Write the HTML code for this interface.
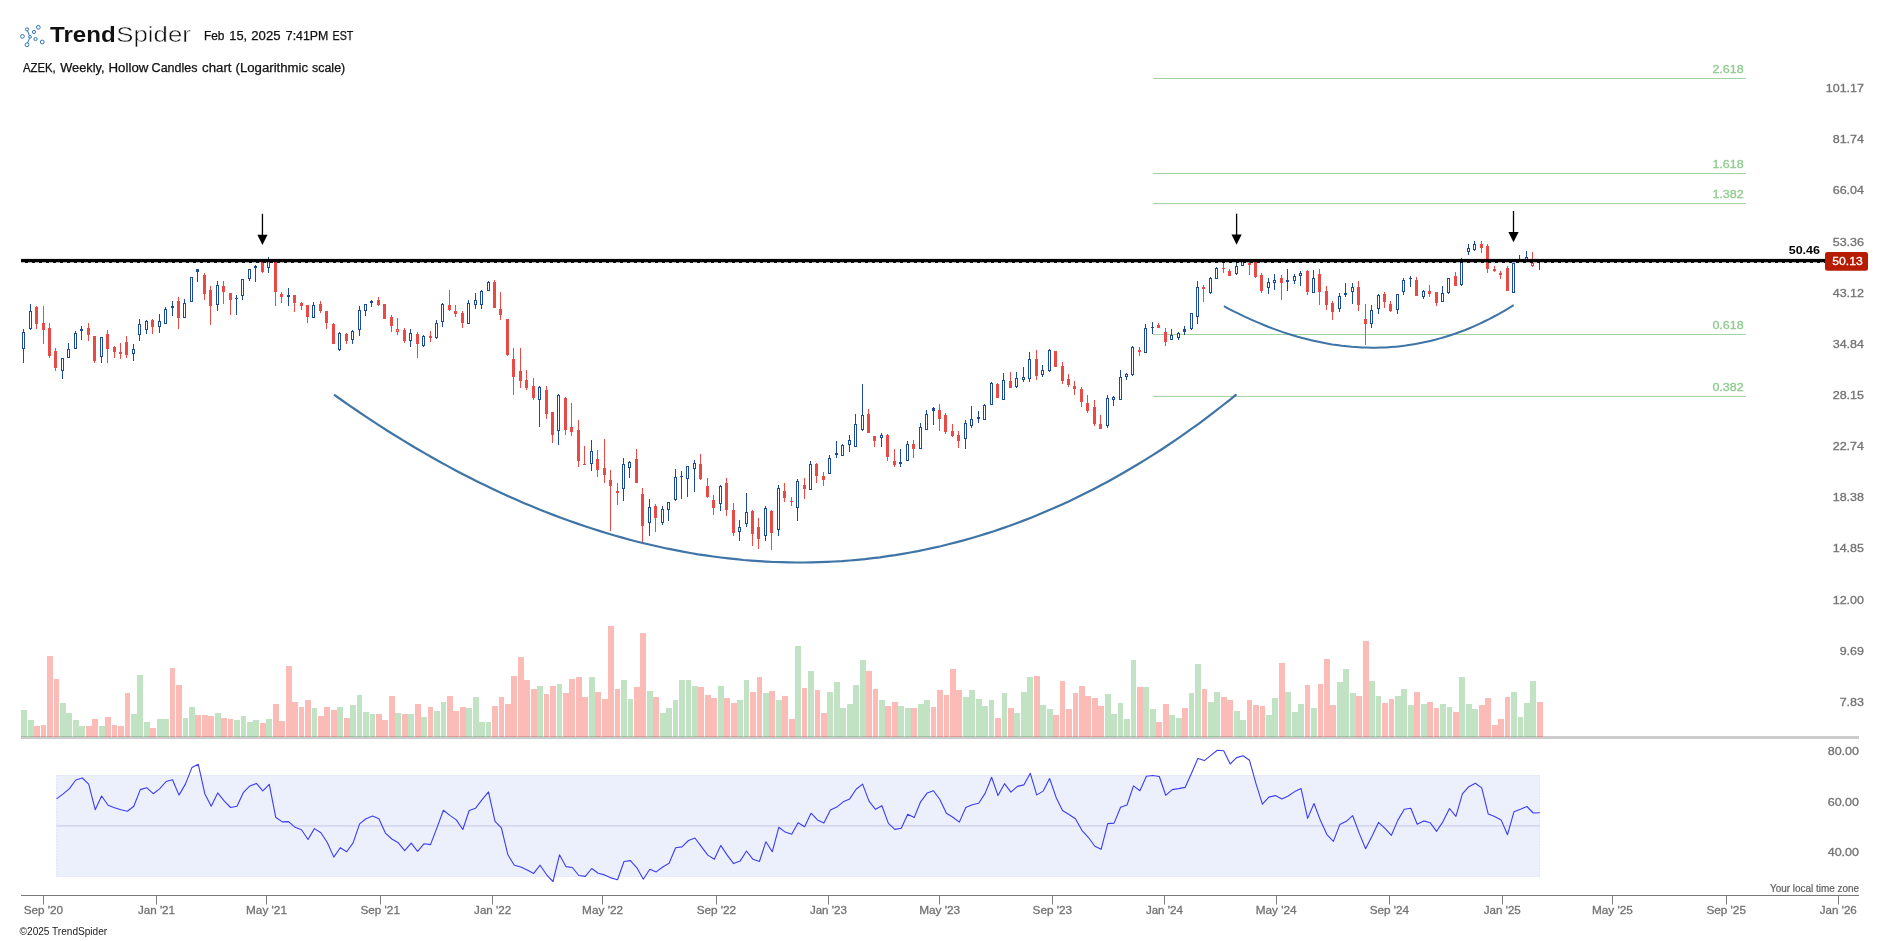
<!DOCTYPE html>
<html><head><meta charset="utf-8"><title>AZEK Weekly - TrendSpider</title>
<style>html,body{margin:0;padding:0;background:#fff;}body{width:1889px;height:941px;overflow:hidden;font-family:"Liberation Sans",sans-serif;}svg{display:block;will-change:transform;}text{font-family:"Liberation Sans",sans-serif;}</style>
</head><body>
<svg width="1889" height="941" viewBox="0 0 1889 941">
<rect x="0" y="0" width="1889" height="941" fill="#ffffff"/>
<g id="logo" fill="none" stroke="#2F77B6" stroke-width="1.0">
<circle cx="38.3" cy="27.3" r="1.9"/>
<circle cx="27.0" cy="29.4" r="1.6"/>
<circle cx="34.0" cy="32.0" r="1.6"/>
<circle cx="22.4" cy="36.4" r="1.9"/>
<circle cx="30.0" cy="36.9" r="1.4"/>
<circle cx="35.5" cy="39.0" r="1.6"/>
<circle cx="42.2" cy="42.0" r="1.9"/>
<circle cx="27.0" cy="44.7" r="1.9"/>
<path d="M27.6 30.9 L29.3 35.6 M29.5 38.3 L27.6 42.9"/>
</g>
<text x="50.00" y="42.40" font-size="22" fill="#111" textLength="65.60" lengthAdjust="spacingAndGlyphs" font-weight="bold">Trend</text>
<text x="116.3" y="42.4" font-size="22" fill="#111" textLength="74.6" lengthAdjust="spacingAndGlyphs" stroke="#fff" stroke-width="0.45" paint-order="fill stroke">Spider</text>
<text x="203.90" y="39.60" font-size="12" fill="#111" textLength="20.50" lengthAdjust="spacingAndGlyphs" stroke="#111" stroke-width="0.25">Feb</text>
<text x="229.30" y="39.60" font-size="12" fill="#111" textLength="17.90" lengthAdjust="spacingAndGlyphs" stroke="#111" stroke-width="0.25">15,</text>
<text x="251.30" y="39.60" font-size="12" fill="#111" textLength="29.20" lengthAdjust="spacingAndGlyphs" stroke="#111" stroke-width="0.25">2025</text>
<text x="285.80" y="39.60" font-size="12" fill="#111" textLength="42.60" lengthAdjust="spacingAndGlyphs" stroke="#111" stroke-width="0.25">7:41PM</text>
<text x="332.60" y="39.60" font-size="12" fill="#111" textLength="20.80" lengthAdjust="spacingAndGlyphs" stroke="#111" stroke-width="0.25">EST</text>
<text x="23.00" y="72.00" font-size="12" fill="#111" textLength="32.70" lengthAdjust="spacingAndGlyphs" stroke="#111" stroke-width="0.25">AZEK,</text>
<text x="60.20" y="72.00" font-size="12" fill="#111" textLength="44.30" lengthAdjust="spacingAndGlyphs" stroke="#111" stroke-width="0.25">Weekly,</text>
<text x="108.50" y="72.00" font-size="12" fill="#111" textLength="39.90" lengthAdjust="spacingAndGlyphs" stroke="#111" stroke-width="0.25">Hollow</text>
<text x="151.60" y="72.00" font-size="12" fill="#111" textLength="45.90" lengthAdjust="spacingAndGlyphs" stroke="#111" stroke-width="0.25">Candles</text>
<text x="202.00" y="72.00" font-size="12" fill="#111" textLength="29.50" lengthAdjust="spacingAndGlyphs" stroke="#111" stroke-width="0.25">chart</text>
<text x="235.50" y="72.00" font-size="12" fill="#111" textLength="72.60" lengthAdjust="spacingAndGlyphs" stroke="#111" stroke-width="0.25">(Logarithmic</text>
<text x="312.00" y="72.00" font-size="12" fill="#111" textLength="33.20" lengthAdjust="spacingAndGlyphs" stroke="#111" stroke-width="0.25">scale)</text>
<rect x="1153" y="78" width="593" height="1" fill="#A3D3A3"/>
<text x="1743.60" y="72.90" font-size="11" fill="#8FCB8F" text-anchor="end" textLength="31.20" lengthAdjust="spacingAndGlyphs" stroke="#8FCB8F" stroke-width="0.3">2.618</text>
<rect x="1153" y="173" width="593" height="1" fill="#A3D3A3"/>
<text x="1743.60" y="167.90" font-size="11" fill="#8FCB8F" text-anchor="end" textLength="31.20" lengthAdjust="spacingAndGlyphs" stroke="#8FCB8F" stroke-width="0.3">1.618</text>
<rect x="1153" y="203" width="593" height="1" fill="#A3D3A3"/>
<text x="1743.60" y="197.90" font-size="11" fill="#8FCB8F" text-anchor="end" textLength="31.20" lengthAdjust="spacingAndGlyphs" stroke="#8FCB8F" stroke-width="0.3">1.382</text>
<rect x="1153" y="334" width="593" height="1" fill="#A3D3A3"/>
<text x="1743.60" y="328.90" font-size="11" fill="#8FCB8F" text-anchor="end" textLength="31.20" lengthAdjust="spacingAndGlyphs" stroke="#8FCB8F" stroke-width="0.3">0.618</text>
<rect x="1153" y="396" width="593" height="1" fill="#A3D3A3"/>
<text x="1743.60" y="390.90" font-size="11" fill="#8FCB8F" text-anchor="end" textLength="31.20" lengthAdjust="spacingAndGlyphs" stroke="#8FCB8F" stroke-width="0.3">0.382</text>
<rect x="21" y="736" width="1838" height="3" fill="#cccccc"/>
<g shape-rendering="crispEdges">
<rect x="21" y="710" width="6" height="27" fill="rgba(76,175,80,0.345)"/>
<rect x="28" y="720" width="6" height="17" fill="rgba(76,175,80,0.345)"/>
<rect x="34" y="726" width="6" height="11" fill="rgba(244,67,54,0.355)"/>
<rect x="41" y="725" width="5" height="12" fill="rgba(244,67,54,0.355)"/>
<rect x="47" y="656" width="6" height="81" fill="rgba(244,67,54,0.355)"/>
<rect x="54" y="679" width="5" height="58" fill="rgba(244,67,54,0.355)"/>
<rect x="60" y="703" width="6" height="34" fill="rgba(76,175,80,0.345)"/>
<rect x="66" y="713" width="6" height="24" fill="rgba(76,175,80,0.345)"/>
<rect x="73" y="720" width="6" height="17" fill="rgba(76,175,80,0.345)"/>
<rect x="79" y="726" width="6" height="11" fill="rgba(76,175,80,0.345)"/>
<rect x="86" y="726" width="6" height="11" fill="rgba(244,67,54,0.355)"/>
<rect x="92" y="719" width="6" height="18" fill="rgba(244,67,54,0.355)"/>
<rect x="99" y="726" width="6" height="11" fill="rgba(76,175,80,0.345)"/>
<rect x="105" y="717" width="6" height="20" fill="rgba(244,67,54,0.355)"/>
<rect x="112" y="725" width="5" height="12" fill="rgba(244,67,54,0.355)"/>
<rect x="118" y="726" width="6" height="11" fill="rgba(244,67,54,0.355)"/>
<rect x="125" y="693" width="5" height="44" fill="rgba(244,67,54,0.355)"/>
<rect x="131" y="714" width="6" height="23" fill="rgba(76,175,80,0.345)"/>
<rect x="137" y="675" width="6" height="62" fill="rgba(76,175,80,0.345)"/>
<rect x="144" y="722" width="6" height="15" fill="rgba(76,175,80,0.345)"/>
<rect x="150" y="728" width="6" height="9" fill="rgba(244,67,54,0.355)"/>
<rect x="157" y="719" width="6" height="18" fill="rgba(76,175,80,0.345)"/>
<rect x="163" y="719" width="6" height="18" fill="rgba(76,175,80,0.345)"/>
<rect x="170" y="668" width="5" height="69" fill="rgba(244,67,54,0.355)"/>
<rect x="176" y="685" width="6" height="52" fill="rgba(244,67,54,0.355)"/>
<rect x="183" y="718" width="5" height="19" fill="rgba(76,175,80,0.345)"/>
<rect x="189" y="707" width="6" height="30" fill="rgba(76,175,80,0.345)"/>
<rect x="195" y="715" width="6" height="22" fill="rgba(244,67,54,0.355)"/>
<rect x="202" y="715" width="6" height="22" fill="rgba(244,67,54,0.355)"/>
<rect x="208" y="716" width="6" height="21" fill="rgba(244,67,54,0.355)"/>
<rect x="215" y="713" width="6" height="24" fill="rgba(76,175,80,0.345)"/>
<rect x="221" y="718" width="6" height="19" fill="rgba(244,67,54,0.355)"/>
<rect x="228" y="719" width="5" height="18" fill="rgba(244,67,54,0.355)"/>
<rect x="234" y="720" width="6" height="17" fill="rgba(76,175,80,0.345)"/>
<rect x="241" y="716" width="5" height="21" fill="rgba(76,175,80,0.345)"/>
<rect x="247" y="722" width="6" height="15" fill="rgba(76,175,80,0.345)"/>
<rect x="253" y="720" width="6" height="17" fill="rgba(76,175,80,0.345)"/>
<rect x="260" y="723" width="6" height="14" fill="rgba(244,67,54,0.355)"/>
<rect x="266" y="719" width="6" height="18" fill="rgba(76,175,80,0.345)"/>
<rect x="273" y="704" width="6" height="33" fill="rgba(244,67,54,0.355)"/>
<rect x="279" y="721" width="6" height="16" fill="rgba(244,67,54,0.355)"/>
<rect x="286" y="666" width="6" height="71" fill="rgba(244,67,54,0.355)"/>
<rect x="292" y="702" width="6" height="35" fill="rgba(244,67,54,0.355)"/>
<rect x="299" y="707" width="5" height="30" fill="rgba(244,67,54,0.355)"/>
<rect x="305" y="700" width="6" height="37" fill="rgba(244,67,54,0.355)"/>
<rect x="312" y="708" width="5" height="29" fill="rgba(76,175,80,0.345)"/>
<rect x="318" y="716" width="6" height="21" fill="rgba(244,67,54,0.355)"/>
<rect x="324" y="707" width="6" height="30" fill="rgba(244,67,54,0.355)"/>
<rect x="331" y="710" width="6" height="27" fill="rgba(244,67,54,0.355)"/>
<rect x="337" y="707" width="6" height="30" fill="rgba(76,175,80,0.345)"/>
<rect x="344" y="718" width="6" height="19" fill="rgba(244,67,54,0.355)"/>
<rect x="350" y="705" width="6" height="32" fill="rgba(76,175,80,0.345)"/>
<rect x="357" y="695" width="5" height="42" fill="rgba(76,175,80,0.345)"/>
<rect x="363" y="712" width="6" height="25" fill="rgba(76,175,80,0.345)"/>
<rect x="370" y="714" width="5" height="23" fill="rgba(76,175,80,0.345)"/>
<rect x="376" y="714" width="6" height="23" fill="rgba(244,67,54,0.355)"/>
<rect x="382" y="720" width="6" height="17" fill="rgba(244,67,54,0.355)"/>
<rect x="389" y="696" width="6" height="41" fill="rgba(244,67,54,0.355)"/>
<rect x="395" y="713" width="6" height="24" fill="rgba(76,175,80,0.345)"/>
<rect x="402" y="714" width="6" height="23" fill="rgba(244,67,54,0.355)"/>
<rect x="408" y="714" width="6" height="23" fill="rgba(76,175,80,0.345)"/>
<rect x="415" y="704" width="6" height="33" fill="rgba(244,67,54,0.355)"/>
<rect x="421" y="717" width="6" height="20" fill="rgba(76,175,80,0.345)"/>
<rect x="428" y="707" width="5" height="30" fill="rgba(244,67,54,0.355)"/>
<rect x="434" y="711" width="6" height="26" fill="rgba(76,175,80,0.345)"/>
<rect x="441" y="702" width="5" height="35" fill="rgba(76,175,80,0.345)"/>
<rect x="447" y="696" width="6" height="41" fill="rgba(244,67,54,0.355)"/>
<rect x="453" y="711" width="6" height="26" fill="rgba(244,67,54,0.355)"/>
<rect x="460" y="707" width="6" height="30" fill="rgba(244,67,54,0.355)"/>
<rect x="466" y="708" width="6" height="29" fill="rgba(76,175,80,0.345)"/>
<rect x="473" y="697" width="6" height="40" fill="rgba(76,175,80,0.345)"/>
<rect x="479" y="722" width="6" height="15" fill="rgba(76,175,80,0.345)"/>
<rect x="486" y="722" width="5" height="15" fill="rgba(76,175,80,0.345)"/>
<rect x="492" y="706" width="6" height="31" fill="rgba(244,67,54,0.355)"/>
<rect x="499" y="697" width="5" height="40" fill="rgba(244,67,54,0.355)"/>
<rect x="505" y="704" width="6" height="33" fill="rgba(244,67,54,0.355)"/>
<rect x="511" y="676" width="6" height="61" fill="rgba(244,67,54,0.355)"/>
<rect x="518" y="657" width="6" height="80" fill="rgba(244,67,54,0.355)"/>
<rect x="524" y="680" width="6" height="57" fill="rgba(244,67,54,0.355)"/>
<rect x="531" y="689" width="6" height="48" fill="rgba(244,67,54,0.355)"/>
<rect x="537" y="686" width="6" height="51" fill="rgba(76,175,80,0.345)"/>
<rect x="544" y="694" width="5" height="43" fill="rgba(244,67,54,0.355)"/>
<rect x="550" y="686" width="6" height="51" fill="rgba(244,67,54,0.355)"/>
<rect x="557" y="684" width="5" height="53" fill="rgba(76,175,80,0.345)"/>
<rect x="563" y="693" width="6" height="44" fill="rgba(244,67,54,0.355)"/>
<rect x="569" y="679" width="6" height="58" fill="rgba(244,67,54,0.355)"/>
<rect x="576" y="677" width="6" height="60" fill="rgba(244,67,54,0.355)"/>
<rect x="582" y="697" width="6" height="40" fill="rgba(244,67,54,0.355)"/>
<rect x="589" y="677" width="6" height="60" fill="rgba(76,175,80,0.345)"/>
<rect x="595" y="692" width="6" height="45" fill="rgba(244,67,54,0.355)"/>
<rect x="602" y="699" width="6" height="38" fill="rgba(244,67,54,0.355)"/>
<rect x="608" y="626" width="6" height="111" fill="rgba(244,67,54,0.355)"/>
<rect x="615" y="689" width="5" height="48" fill="rgba(244,67,54,0.355)"/>
<rect x="621" y="680" width="6" height="57" fill="rgba(76,175,80,0.345)"/>
<rect x="628" y="699" width="5" height="38" fill="rgba(76,175,80,0.345)"/>
<rect x="634" y="687" width="6" height="50" fill="rgba(244,67,54,0.355)"/>
<rect x="640" y="633" width="6" height="104" fill="rgba(244,67,54,0.355)"/>
<rect x="647" y="691" width="6" height="46" fill="rgba(76,175,80,0.345)"/>
<rect x="653" y="697" width="6" height="40" fill="rgba(244,67,54,0.355)"/>
<rect x="660" y="713" width="6" height="24" fill="rgba(76,175,80,0.345)"/>
<rect x="666" y="708" width="6" height="29" fill="rgba(76,175,80,0.345)"/>
<rect x="673" y="700" width="5" height="37" fill="rgba(76,175,80,0.345)"/>
<rect x="679" y="680" width="6" height="57" fill="rgba(76,175,80,0.345)"/>
<rect x="686" y="680" width="5" height="57" fill="rgba(76,175,80,0.345)"/>
<rect x="692" y="686" width="6" height="51" fill="rgba(76,175,80,0.345)"/>
<rect x="698" y="687" width="6" height="50" fill="rgba(244,67,54,0.355)"/>
<rect x="705" y="695" width="6" height="42" fill="rgba(244,67,54,0.355)"/>
<rect x="711" y="698" width="6" height="39" fill="rgba(244,67,54,0.355)"/>
<rect x="718" y="686" width="6" height="51" fill="rgba(76,175,80,0.345)"/>
<rect x="724" y="698" width="6" height="39" fill="rgba(244,67,54,0.355)"/>
<rect x="731" y="703" width="6" height="34" fill="rgba(244,67,54,0.355)"/>
<rect x="737" y="700" width="6" height="37" fill="rgba(76,175,80,0.345)"/>
<rect x="744" y="680" width="5" height="57" fill="rgba(76,175,80,0.345)"/>
<rect x="750" y="692" width="6" height="45" fill="rgba(244,67,54,0.355)"/>
<rect x="757" y="677" width="5" height="60" fill="rgba(244,67,54,0.355)"/>
<rect x="763" y="693" width="6" height="44" fill="rgba(76,175,80,0.345)"/>
<rect x="769" y="691" width="6" height="46" fill="rgba(244,67,54,0.355)"/>
<rect x="776" y="700" width="6" height="37" fill="rgba(76,175,80,0.345)"/>
<rect x="782" y="696" width="6" height="41" fill="rgba(244,67,54,0.355)"/>
<rect x="789" y="719" width="6" height="18" fill="rgba(244,67,54,0.355)"/>
<rect x="795" y="646" width="6" height="91" fill="rgba(76,175,80,0.345)"/>
<rect x="802" y="688" width="5" height="49" fill="rgba(244,67,54,0.355)"/>
<rect x="808" y="671" width="6" height="66" fill="rgba(76,175,80,0.345)"/>
<rect x="815" y="690" width="5" height="47" fill="rgba(244,67,54,0.355)"/>
<rect x="821" y="713" width="6" height="24" fill="rgba(244,67,54,0.355)"/>
<rect x="827" y="692" width="6" height="45" fill="rgba(76,175,80,0.345)"/>
<rect x="834" y="682" width="6" height="55" fill="rgba(76,175,80,0.345)"/>
<rect x="840" y="708" width="6" height="29" fill="rgba(76,175,80,0.345)"/>
<rect x="847" y="704" width="6" height="33" fill="rgba(76,175,80,0.345)"/>
<rect x="853" y="685" width="6" height="52" fill="rgba(76,175,80,0.345)"/>
<rect x="860" y="660" width="6" height="77" fill="rgba(76,175,80,0.345)"/>
<rect x="866" y="671" width="6" height="66" fill="rgba(244,67,54,0.355)"/>
<rect x="873" y="689" width="5" height="48" fill="rgba(244,67,54,0.355)"/>
<rect x="879" y="700" width="6" height="37" fill="rgba(76,175,80,0.345)"/>
<rect x="885" y="706" width="6" height="31" fill="rgba(244,67,54,0.355)"/>
<rect x="892" y="702" width="6" height="35" fill="rgba(244,67,54,0.355)"/>
<rect x="898" y="706" width="6" height="31" fill="rgba(76,175,80,0.345)"/>
<rect x="905" y="708" width="6" height="29" fill="rgba(76,175,80,0.345)"/>
<rect x="911" y="708" width="6" height="29" fill="rgba(244,67,54,0.355)"/>
<rect x="918" y="704" width="6" height="33" fill="rgba(76,175,80,0.345)"/>
<rect x="924" y="700" width="6" height="37" fill="rgba(76,175,80,0.345)"/>
<rect x="931" y="707" width="5" height="30" fill="rgba(244,67,54,0.355)"/>
<rect x="937" y="690" width="6" height="47" fill="rgba(244,67,54,0.355)"/>
<rect x="944" y="695" width="5" height="42" fill="rgba(244,67,54,0.355)"/>
<rect x="950" y="669" width="6" height="68" fill="rgba(244,67,54,0.355)"/>
<rect x="956" y="690" width="6" height="47" fill="rgba(244,67,54,0.355)"/>
<rect x="963" y="697" width="6" height="40" fill="rgba(76,175,80,0.345)"/>
<rect x="969" y="690" width="6" height="47" fill="rgba(76,175,80,0.345)"/>
<rect x="976" y="699" width="6" height="38" fill="rgba(76,175,80,0.345)"/>
<rect x="982" y="706" width="6" height="31" fill="rgba(76,175,80,0.345)"/>
<rect x="989" y="700" width="5" height="37" fill="rgba(76,175,80,0.345)"/>
<rect x="995" y="718" width="6" height="19" fill="rgba(244,67,54,0.355)"/>
<rect x="1002" y="693" width="5" height="44" fill="rgba(76,175,80,0.345)"/>
<rect x="1008" y="708" width="6" height="29" fill="rgba(244,67,54,0.355)"/>
<rect x="1014" y="713" width="6" height="24" fill="rgba(76,175,80,0.345)"/>
<rect x="1021" y="692" width="6" height="45" fill="rgba(76,175,80,0.345)"/>
<rect x="1027" y="677" width="6" height="60" fill="rgba(76,175,80,0.345)"/>
<rect x="1034" y="676" width="6" height="61" fill="rgba(244,67,54,0.355)"/>
<rect x="1040" y="705" width="6" height="32" fill="rgba(76,175,80,0.345)"/>
<rect x="1047" y="709" width="6" height="28" fill="rgba(76,175,80,0.345)"/>
<rect x="1053" y="715" width="6" height="22" fill="rgba(244,67,54,0.355)"/>
<rect x="1060" y="681" width="5" height="56" fill="rgba(244,67,54,0.355)"/>
<rect x="1066" y="709" width="6" height="28" fill="rgba(244,67,54,0.355)"/>
<rect x="1073" y="693" width="5" height="44" fill="rgba(244,67,54,0.355)"/>
<rect x="1079" y="686" width="6" height="51" fill="rgba(244,67,54,0.355)"/>
<rect x="1085" y="696" width="6" height="41" fill="rgba(244,67,54,0.355)"/>
<rect x="1092" y="698" width="6" height="39" fill="rgba(244,67,54,0.355)"/>
<rect x="1098" y="706" width="6" height="31" fill="rgba(244,67,54,0.355)"/>
<rect x="1105" y="694" width="6" height="43" fill="rgba(76,175,80,0.345)"/>
<rect x="1111" y="714" width="6" height="23" fill="rgba(76,175,80,0.345)"/>
<rect x="1118" y="703" width="5" height="34" fill="rgba(76,175,80,0.345)"/>
<rect x="1124" y="719" width="6" height="18" fill="rgba(76,175,80,0.345)"/>
<rect x="1131" y="660" width="5" height="77" fill="rgba(76,175,80,0.345)"/>
<rect x="1137" y="687" width="6" height="50" fill="rgba(244,67,54,0.355)"/>
<rect x="1143" y="687" width="6" height="50" fill="rgba(76,175,80,0.345)"/>
<rect x="1150" y="709" width="6" height="28" fill="rgba(76,175,80,0.345)"/>
<rect x="1156" y="722" width="6" height="15" fill="rgba(244,67,54,0.355)"/>
<rect x="1163" y="704" width="6" height="33" fill="rgba(244,67,54,0.355)"/>
<rect x="1169" y="715" width="6" height="22" fill="rgba(76,175,80,0.345)"/>
<rect x="1176" y="718" width="6" height="19" fill="rgba(76,175,80,0.345)"/>
<rect x="1182" y="708" width="6" height="29" fill="rgba(244,67,54,0.355)"/>
<rect x="1189" y="693" width="5" height="44" fill="rgba(76,175,80,0.345)"/>
<rect x="1195" y="664" width="6" height="73" fill="rgba(76,175,80,0.345)"/>
<rect x="1202" y="689" width="5" height="48" fill="rgba(244,67,54,0.355)"/>
<rect x="1208" y="702" width="6" height="35" fill="rgba(76,175,80,0.345)"/>
<rect x="1214" y="692" width="6" height="45" fill="rgba(76,175,80,0.345)"/>
<rect x="1221" y="697" width="6" height="40" fill="rgba(244,67,54,0.355)"/>
<rect x="1227" y="700" width="6" height="37" fill="rgba(244,67,54,0.355)"/>
<rect x="1234" y="711" width="6" height="26" fill="rgba(76,175,80,0.345)"/>
<rect x="1240" y="720" width="6" height="17" fill="rgba(76,175,80,0.345)"/>
<rect x="1247" y="700" width="5" height="37" fill="rgba(244,67,54,0.355)"/>
<rect x="1253" y="705" width="6" height="32" fill="rgba(244,67,54,0.355)"/>
<rect x="1260" y="706" width="5" height="31" fill="rgba(244,67,54,0.355)"/>
<rect x="1266" y="715" width="6" height="22" fill="rgba(76,175,80,0.345)"/>
<rect x="1272" y="698" width="6" height="39" fill="rgba(76,175,80,0.345)"/>
<rect x="1279" y="663" width="6" height="74" fill="rgba(244,67,54,0.355)"/>
<rect x="1285" y="692" width="6" height="45" fill="rgba(76,175,80,0.345)"/>
<rect x="1292" y="712" width="6" height="25" fill="rgba(76,175,80,0.345)"/>
<rect x="1298" y="704" width="6" height="33" fill="rgba(76,175,80,0.345)"/>
<rect x="1305" y="685" width="5" height="52" fill="rgba(244,67,54,0.355)"/>
<rect x="1311" y="708" width="6" height="29" fill="rgba(76,175,80,0.345)"/>
<rect x="1318" y="684" width="5" height="53" fill="rgba(244,67,54,0.355)"/>
<rect x="1324" y="659" width="6" height="78" fill="rgba(244,67,54,0.355)"/>
<rect x="1330" y="705" width="6" height="32" fill="rgba(244,67,54,0.355)"/>
<rect x="1337" y="682" width="6" height="55" fill="rgba(76,175,80,0.345)"/>
<rect x="1343" y="669" width="6" height="68" fill="rgba(76,175,80,0.345)"/>
<rect x="1350" y="693" width="6" height="44" fill="rgba(76,175,80,0.345)"/>
<rect x="1356" y="696" width="6" height="41" fill="rgba(244,67,54,0.355)"/>
<rect x="1363" y="641" width="6" height="96" fill="rgba(244,67,54,0.355)"/>
<rect x="1369" y="681" width="6" height="56" fill="rgba(76,175,80,0.345)"/>
<rect x="1376" y="696" width="5" height="41" fill="rgba(76,175,80,0.345)"/>
<rect x="1382" y="703" width="6" height="34" fill="rgba(244,67,54,0.355)"/>
<rect x="1389" y="699" width="5" height="38" fill="rgba(244,67,54,0.355)"/>
<rect x="1395" y="696" width="6" height="41" fill="rgba(76,175,80,0.345)"/>
<rect x="1401" y="689" width="6" height="48" fill="rgba(76,175,80,0.345)"/>
<rect x="1408" y="705" width="6" height="32" fill="rgba(76,175,80,0.345)"/>
<rect x="1414" y="692" width="6" height="45" fill="rgba(244,67,54,0.355)"/>
<rect x="1421" y="704" width="6" height="33" fill="rgba(76,175,80,0.345)"/>
<rect x="1427" y="702" width="6" height="35" fill="rgba(244,67,54,0.355)"/>
<rect x="1434" y="708" width="5" height="29" fill="rgba(244,67,54,0.355)"/>
<rect x="1440" y="704" width="6" height="33" fill="rgba(76,175,80,0.345)"/>
<rect x="1447" y="707" width="5" height="30" fill="rgba(76,175,80,0.345)"/>
<rect x="1453" y="712" width="6" height="25" fill="rgba(244,67,54,0.355)"/>
<rect x="1459" y="677" width="6" height="60" fill="rgba(76,175,80,0.345)"/>
<rect x="1466" y="704" width="6" height="33" fill="rgba(76,175,80,0.345)"/>
<rect x="1472" y="709" width="6" height="28" fill="rgba(76,175,80,0.345)"/>
<rect x="1479" y="705" width="6" height="32" fill="rgba(244,67,54,0.355)"/>
<rect x="1485" y="698" width="6" height="39" fill="rgba(244,67,54,0.355)"/>
<rect x="1492" y="725" width="6" height="12" fill="rgba(244,67,54,0.355)"/>
<rect x="1498" y="719" width="6" height="18" fill="rgba(244,67,54,0.355)"/>
<rect x="1505" y="697" width="5" height="40" fill="rgba(244,67,54,0.355)"/>
<rect x="1511" y="692" width="6" height="45" fill="rgba(76,175,80,0.345)"/>
<rect x="1518" y="717" width="5" height="20" fill="rgba(76,175,80,0.345)"/>
<rect x="1524" y="703" width="6" height="34" fill="rgba(76,175,80,0.345)"/>
<rect x="1530" y="681" width="6" height="56" fill="rgba(76,175,80,0.345)"/>
<rect x="1537" y="702" width="6" height="35" fill="rgba(244,67,54,0.355)"/>
</g>
<g shape-rendering="crispEdges">
<rect x="23" y="329" width="1" height="34" fill="#1C4B9E"/>
<rect x="22" y="332" width="3" height="17" fill="#1C4B9E"/>
<rect x="23" y="333" width="1" height="15" fill="#fff"/>
<rect x="30" y="304" width="1" height="26" fill="#1C4B9E"/>
<rect x="29" y="311" width="3" height="18" fill="#1C4B9E"/>
<rect x="30" y="312" width="1" height="16" fill="#fff"/>
<rect x="36" y="306" width="1" height="23" fill="#EA4A45"/>
<rect x="35" y="307" width="3" height="17" fill="#EA4A45"/>
<rect x="43" y="306" width="1" height="38" fill="#EA4A45"/>
<rect x="42" y="323" width="3" height="7" fill="#EA4A45"/>
<rect x="49" y="323" width="1" height="35" fill="#EA4A45"/>
<rect x="48" y="328" width="3" height="28" fill="#EA4A45"/>
<rect x="55" y="348" width="1" height="23" fill="#EA4A45"/>
<rect x="54" y="351" width="3" height="17" fill="#EA4A45"/>
<rect x="62" y="358" width="1" height="21" fill="#1C4B9E"/>
<rect x="61" y="358" width="3" height="13" fill="#1C4B9E"/>
<rect x="62" y="359" width="1" height="11" fill="#fff"/>
<rect x="68" y="343" width="1" height="15" fill="#1C4B9E"/>
<rect x="67" y="349" width="3" height="9" fill="#1C4B9E"/>
<rect x="68" y="350" width="1" height="7" fill="#fff"/>
<rect x="75" y="331" width="1" height="18" fill="#1C4B9E"/>
<rect x="74" y="333" width="3" height="16" fill="#1C4B9E"/>
<rect x="75" y="334" width="1" height="14" fill="#fff"/>
<rect x="81" y="326" width="1" height="14" fill="#1C4B9E"/>
<rect x="80" y="329" width="3" height="2" fill="#1C4B9E"/>
<rect x="88" y="323" width="1" height="18" fill="#EA4A45"/>
<rect x="87" y="328" width="3" height="7" fill="#EA4A45"/>
<rect x="94" y="336" width="1" height="27" fill="#EA4A45"/>
<rect x="93" y="336" width="3" height="25" fill="#EA4A45"/>
<rect x="101" y="337" width="1" height="26" fill="#1C4B9E"/>
<rect x="100" y="337" width="3" height="20" fill="#1C4B9E"/>
<rect x="101" y="338" width="1" height="18" fill="#fff"/>
<rect x="107" y="330" width="1" height="33" fill="#EA4A45"/>
<rect x="106" y="334" width="3" height="15" fill="#EA4A45"/>
<rect x="114" y="346" width="1" height="12" fill="#EA4A45"/>
<rect x="113" y="347" width="3" height="5" fill="#EA4A45"/>
<rect x="120" y="343" width="1" height="16" fill="#EA4A45"/>
<rect x="119" y="352" width="3" height="2" fill="#EA4A45"/>
<rect x="126" y="336" width="1" height="22" fill="#EA4A45"/>
<rect x="125" y="342" width="3" height="13" fill="#EA4A45"/>
<rect x="133" y="344" width="1" height="17" fill="#1C4B9E"/>
<rect x="132" y="349" width="3" height="5" fill="#1C4B9E"/>
<rect x="133" y="350" width="1" height="3" fill="#fff"/>
<rect x="139" y="319" width="1" height="22" fill="#1C4B9E"/>
<rect x="138" y="324" width="3" height="11" fill="#1C4B9E"/>
<rect x="139" y="325" width="1" height="9" fill="#fff"/>
<rect x="146" y="320" width="1" height="14" fill="#1C4B9E"/>
<rect x="145" y="321" width="3" height="9" fill="#1C4B9E"/>
<rect x="146" y="322" width="1" height="7" fill="#fff"/>
<rect x="152" y="319" width="1" height="15" fill="#EA4A45"/>
<rect x="151" y="320" width="3" height="7" fill="#EA4A45"/>
<rect x="159" y="314" width="1" height="19" fill="#1C4B9E"/>
<rect x="158" y="321" width="3" height="6" fill="#1C4B9E"/>
<rect x="159" y="322" width="1" height="4" fill="#fff"/>
<rect x="165" y="307" width="1" height="17" fill="#1C4B9E"/>
<rect x="164" y="309" width="3" height="15" fill="#1C4B9E"/>
<rect x="165" y="310" width="1" height="13" fill="#fff"/>
<rect x="172" y="301" width="1" height="15" fill="#1C4B9E"/>
<rect x="171" y="306" width="3" height="2" fill="#1C4B9E"/>
<rect x="178" y="297" width="1" height="32" fill="#EA4A45"/>
<rect x="177" y="301" width="3" height="17" fill="#EA4A45"/>
<rect x="184" y="299" width="1" height="19" fill="#1C4B9E"/>
<rect x="183" y="303" width="3" height="15" fill="#1C4B9E"/>
<rect x="184" y="304" width="1" height="13" fill="#fff"/>
<rect x="191" y="277" width="1" height="25" fill="#1C4B9E"/>
<rect x="190" y="277" width="3" height="25" fill="#1C4B9E"/>
<rect x="191" y="278" width="1" height="23" fill="#fff"/>
<rect x="197" y="269" width="1" height="13" fill="#1C4B9E"/>
<rect x="196" y="269" width="3" height="3" fill="#1C4B9E"/>
<rect x="204" y="273" width="1" height="27" fill="#EA4A45"/>
<rect x="203" y="275" width="3" height="19" fill="#EA4A45"/>
<rect x="210" y="286" width="1" height="39" fill="#EA4A45"/>
<rect x="209" y="290" width="3" height="16" fill="#EA4A45"/>
<rect x="217" y="281" width="1" height="30" fill="#1C4B9E"/>
<rect x="216" y="285" width="3" height="20" fill="#1C4B9E"/>
<rect x="217" y="286" width="1" height="18" fill="#fff"/>
<rect x="223" y="281" width="1" height="23" fill="#EA4A45"/>
<rect x="222" y="286" width="3" height="6" fill="#EA4A45"/>
<rect x="230" y="293" width="1" height="22" fill="#EA4A45"/>
<rect x="229" y="293" width="3" height="7" fill="#EA4A45"/>
<rect x="236" y="295" width="1" height="20" fill="#1C4B9E"/>
<rect x="235" y="298" width="3" height="1" fill="#1C4B9E"/>
<rect x="242" y="279" width="1" height="21" fill="#1C4B9E"/>
<rect x="241" y="279" width="3" height="17" fill="#1C4B9E"/>
<rect x="242" y="280" width="1" height="15" fill="#fff"/>
<rect x="249" y="269" width="1" height="12" fill="#1C4B9E"/>
<rect x="248" y="269" width="3" height="10" fill="#1C4B9E"/>
<rect x="249" y="270" width="1" height="8" fill="#fff"/>
<rect x="255" y="265" width="1" height="17" fill="#1C4B9E"/>
<rect x="254" y="266" width="3" height="2" fill="#1C4B9E"/>
<rect x="262" y="261" width="1" height="12" fill="#EA4A45"/>
<rect x="261" y="261" width="3" height="11" fill="#EA4A45"/>
<rect x="268" y="257" width="1" height="16" fill="#1C4B9E"/>
<rect x="267" y="261" width="3" height="7" fill="#1C4B9E"/>
<rect x="268" y="262" width="1" height="5" fill="#fff"/>
<rect x="275" y="261" width="1" height="45" fill="#EA4A45"/>
<rect x="274" y="261" width="3" height="31" fill="#EA4A45"/>
<rect x="281" y="292" width="1" height="11" fill="#EA4A45"/>
<rect x="280" y="294" width="3" height="3" fill="#EA4A45"/>
<rect x="288" y="288" width="1" height="18" fill="#1C4B9E"/>
<rect x="287" y="295" width="3" height="2" fill="#1C4B9E"/>
<rect x="294" y="295" width="1" height="17" fill="#EA4A45"/>
<rect x="293" y="295" width="3" height="8" fill="#EA4A45"/>
<rect x="301" y="302" width="1" height="8" fill="#EA4A45"/>
<rect x="300" y="303" width="3" height="3" fill="#EA4A45"/>
<rect x="307" y="305" width="1" height="18" fill="#EA4A45"/>
<rect x="306" y="305" width="3" height="12" fill="#EA4A45"/>
<rect x="313" y="302" width="1" height="16" fill="#1C4B9E"/>
<rect x="312" y="305" width="3" height="13" fill="#1C4B9E"/>
<rect x="313" y="306" width="1" height="11" fill="#fff"/>
<rect x="320" y="301" width="1" height="12" fill="#EA4A45"/>
<rect x="319" y="304" width="3" height="7" fill="#EA4A45"/>
<rect x="326" y="311" width="1" height="18" fill="#EA4A45"/>
<rect x="325" y="311" width="3" height="12" fill="#EA4A45"/>
<rect x="333" y="323" width="1" height="21" fill="#EA4A45"/>
<rect x="332" y="324" width="3" height="20" fill="#EA4A45"/>
<rect x="339" y="332" width="1" height="19" fill="#1C4B9E"/>
<rect x="338" y="333" width="3" height="17" fill="#1C4B9E"/>
<rect x="339" y="334" width="1" height="15" fill="#fff"/>
<rect x="346" y="333" width="1" height="11" fill="#EA4A45"/>
<rect x="345" y="334" width="3" height="7" fill="#EA4A45"/>
<rect x="352" y="330" width="1" height="14" fill="#1C4B9E"/>
<rect x="351" y="331" width="3" height="9" fill="#1C4B9E"/>
<rect x="352" y="332" width="1" height="7" fill="#fff"/>
<rect x="359" y="306" width="1" height="30" fill="#1C4B9E"/>
<rect x="358" y="310" width="3" height="20" fill="#1C4B9E"/>
<rect x="359" y="311" width="1" height="18" fill="#fff"/>
<rect x="365" y="304" width="1" height="12" fill="#1C4B9E"/>
<rect x="364" y="304" width="3" height="7" fill="#1C4B9E"/>
<rect x="365" y="305" width="1" height="5" fill="#fff"/>
<rect x="371" y="300" width="1" height="7" fill="#1C4B9E"/>
<rect x="370" y="301" width="3" height="2" fill="#1C4B9E"/>
<rect x="378" y="297" width="1" height="9" fill="#EA4A45"/>
<rect x="377" y="300" width="3" height="5" fill="#EA4A45"/>
<rect x="384" y="304" width="1" height="15" fill="#EA4A45"/>
<rect x="383" y="304" width="3" height="15" fill="#EA4A45"/>
<rect x="391" y="315" width="1" height="17" fill="#EA4A45"/>
<rect x="390" y="317" width="3" height="9" fill="#EA4A45"/>
<rect x="397" y="318" width="1" height="17" fill="#EA4A45"/>
<rect x="396" y="329" width="3" height="3" fill="#EA4A45"/>
<rect x="397" y="330" width="1" height="1" fill="#fff"/>
<rect x="404" y="328" width="1" height="15" fill="#EA4A45"/>
<rect x="403" y="330" width="3" height="11" fill="#EA4A45"/>
<rect x="410" y="329" width="1" height="18" fill="#1C4B9E"/>
<rect x="409" y="333" width="3" height="8" fill="#1C4B9E"/>
<rect x="410" y="334" width="1" height="6" fill="#fff"/>
<rect x="417" y="332" width="1" height="26" fill="#EA4A45"/>
<rect x="416" y="334" width="3" height="10" fill="#EA4A45"/>
<rect x="423" y="335" width="1" height="12" fill="#1C4B9E"/>
<rect x="422" y="336" width="3" height="10" fill="#1C4B9E"/>
<rect x="423" y="337" width="1" height="8" fill="#fff"/>
<rect x="430" y="331" width="1" height="11" fill="#EA4A45"/>
<rect x="429" y="336" width="3" height="2" fill="#EA4A45"/>
<rect x="436" y="320" width="1" height="19" fill="#1C4B9E"/>
<rect x="435" y="323" width="3" height="15" fill="#1C4B9E"/>
<rect x="436" y="324" width="1" height="13" fill="#fff"/>
<rect x="442" y="303" width="1" height="24" fill="#1C4B9E"/>
<rect x="441" y="304" width="3" height="18" fill="#1C4B9E"/>
<rect x="442" y="305" width="1" height="16" fill="#fff"/>
<rect x="449" y="290" width="1" height="21" fill="#EA4A45"/>
<rect x="448" y="305" width="3" height="5" fill="#EA4A45"/>
<rect x="455" y="305" width="1" height="12" fill="#EA4A45"/>
<rect x="454" y="311" width="3" height="3" fill="#EA4A45"/>
<rect x="462" y="311" width="1" height="17" fill="#EA4A45"/>
<rect x="461" y="313" width="3" height="10" fill="#EA4A45"/>
<rect x="468" y="300" width="1" height="24" fill="#1C4B9E"/>
<rect x="467" y="303" width="3" height="21" fill="#1C4B9E"/>
<rect x="468" y="304" width="1" height="19" fill="#fff"/>
<rect x="475" y="293" width="1" height="16" fill="#1C4B9E"/>
<rect x="474" y="300" width="3" height="5" fill="#1C4B9E"/>
<rect x="475" y="301" width="1" height="3" fill="#fff"/>
<rect x="481" y="290" width="1" height="19" fill="#1C4B9E"/>
<rect x="480" y="291" width="3" height="14" fill="#1C4B9E"/>
<rect x="481" y="292" width="1" height="12" fill="#fff"/>
<rect x="488" y="281" width="1" height="10" fill="#1C4B9E"/>
<rect x="487" y="282" width="3" height="9" fill="#1C4B9E"/>
<rect x="488" y="283" width="1" height="7" fill="#fff"/>
<rect x="494" y="280" width="1" height="28" fill="#EA4A45"/>
<rect x="493" y="282" width="3" height="26" fill="#EA4A45"/>
<rect x="500" y="292" width="1" height="28" fill="#EA4A45"/>
<rect x="499" y="309" width="3" height="6" fill="#EA4A45"/>
<rect x="507" y="319" width="1" height="37" fill="#EA4A45"/>
<rect x="506" y="319" width="3" height="36" fill="#EA4A45"/>
<rect x="513" y="348" width="1" height="47" fill="#EA4A45"/>
<rect x="512" y="359" width="3" height="18" fill="#EA4A45"/>
<rect x="520" y="348" width="1" height="40" fill="#EA4A45"/>
<rect x="519" y="371" width="3" height="10" fill="#EA4A45"/>
<rect x="526" y="370" width="1" height="20" fill="#EA4A45"/>
<rect x="525" y="380" width="3" height="8" fill="#EA4A45"/>
<rect x="533" y="378" width="1" height="22" fill="#EA4A45"/>
<rect x="532" y="386" width="3" height="12" fill="#EA4A45"/>
<rect x="539" y="386" width="1" height="41" fill="#1C4B9E"/>
<rect x="538" y="387" width="3" height="13" fill="#1C4B9E"/>
<rect x="539" y="388" width="1" height="11" fill="#fff"/>
<rect x="546" y="386" width="1" height="33" fill="#EA4A45"/>
<rect x="545" y="390" width="3" height="24" fill="#EA4A45"/>
<rect x="552" y="412" width="1" height="31" fill="#EA4A45"/>
<rect x="551" y="412" width="3" height="23" fill="#EA4A45"/>
<rect x="558" y="394" width="1" height="51" fill="#1C4B9E"/>
<rect x="557" y="395" width="3" height="36" fill="#1C4B9E"/>
<rect x="558" y="396" width="1" height="34" fill="#fff"/>
<rect x="565" y="397" width="1" height="38" fill="#EA4A45"/>
<rect x="564" y="398" width="3" height="32" fill="#EA4A45"/>
<rect x="571" y="403" width="1" height="33" fill="#EA4A45"/>
<rect x="570" y="427" width="3" height="5" fill="#EA4A45"/>
<rect x="578" y="420" width="1" height="47" fill="#EA4A45"/>
<rect x="577" y="430" width="3" height="31" fill="#EA4A45"/>
<rect x="584" y="446" width="1" height="19" fill="#EA4A45"/>
<rect x="583" y="464" width="3" height="1" fill="#EA4A45"/>
<rect x="591" y="440" width="1" height="31" fill="#1C4B9E"/>
<rect x="590" y="451" width="3" height="13" fill="#1C4B9E"/>
<rect x="591" y="452" width="1" height="11" fill="#fff"/>
<rect x="597" y="450" width="1" height="27" fill="#EA4A45"/>
<rect x="596" y="459" width="3" height="11" fill="#EA4A45"/>
<rect x="604" y="439" width="1" height="44" fill="#EA4A45"/>
<rect x="603" y="468" width="3" height="7" fill="#EA4A45"/>
<rect x="610" y="470" width="1" height="61" fill="#EA4A45"/>
<rect x="609" y="480" width="3" height="6" fill="#EA4A45"/>
<rect x="617" y="483" width="1" height="22" fill="#EA4A45"/>
<rect x="616" y="491" width="3" height="2" fill="#EA4A45"/>
<rect x="623" y="458" width="1" height="43" fill="#1C4B9E"/>
<rect x="622" y="464" width="3" height="25" fill="#1C4B9E"/>
<rect x="623" y="465" width="1" height="23" fill="#fff"/>
<rect x="629" y="461" width="1" height="17" fill="#1C4B9E"/>
<rect x="628" y="462" width="3" height="6" fill="#1C4B9E"/>
<rect x="629" y="463" width="1" height="4" fill="#fff"/>
<rect x="636" y="449" width="1" height="34" fill="#EA4A45"/>
<rect x="635" y="459" width="3" height="24" fill="#EA4A45"/>
<rect x="642" y="488" width="1" height="54" fill="#EA4A45"/>
<rect x="641" y="494" width="3" height="32" fill="#EA4A45"/>
<rect x="649" y="499" width="1" height="37" fill="#1C4B9E"/>
<rect x="648" y="507" width="3" height="16" fill="#1C4B9E"/>
<rect x="649" y="508" width="1" height="14" fill="#fff"/>
<rect x="655" y="504" width="1" height="28" fill="#EA4A45"/>
<rect x="654" y="506" width="3" height="12" fill="#EA4A45"/>
<rect x="662" y="506" width="1" height="19" fill="#1C4B9E"/>
<rect x="661" y="509" width="3" height="14" fill="#1C4B9E"/>
<rect x="662" y="510" width="1" height="12" fill="#fff"/>
<rect x="668" y="502" width="1" height="19" fill="#1C4B9E"/>
<rect x="667" y="502" width="3" height="8" fill="#1C4B9E"/>
<rect x="668" y="503" width="1" height="6" fill="#fff"/>
<rect x="675" y="469" width="1" height="32" fill="#1C4B9E"/>
<rect x="674" y="477" width="3" height="23" fill="#1C4B9E"/>
<rect x="675" y="478" width="1" height="21" fill="#fff"/>
<rect x="681" y="471" width="1" height="28" fill="#1C4B9E"/>
<rect x="680" y="476" width="3" height="1" fill="#1C4B9E"/>
<rect x="687" y="466" width="1" height="31" fill="#1C4B9E"/>
<rect x="686" y="466" width="3" height="13" fill="#1C4B9E"/>
<rect x="687" y="467" width="1" height="11" fill="#fff"/>
<rect x="694" y="460" width="1" height="32" fill="#1C4B9E"/>
<rect x="693" y="463" width="3" height="6" fill="#1C4B9E"/>
<rect x="694" y="464" width="1" height="4" fill="#fff"/>
<rect x="700" y="454" width="1" height="26" fill="#EA4A45"/>
<rect x="699" y="464" width="3" height="15" fill="#EA4A45"/>
<rect x="707" y="478" width="1" height="20" fill="#EA4A45"/>
<rect x="706" y="486" width="3" height="11" fill="#EA4A45"/>
<rect x="713" y="495" width="1" height="20" fill="#EA4A45"/>
<rect x="712" y="500" width="3" height="8" fill="#EA4A45"/>
<rect x="720" y="485" width="1" height="26" fill="#1C4B9E"/>
<rect x="719" y="486" width="3" height="18" fill="#1C4B9E"/>
<rect x="720" y="487" width="1" height="16" fill="#fff"/>
<rect x="726" y="478" width="1" height="38" fill="#EA4A45"/>
<rect x="725" y="483" width="3" height="27" fill="#EA4A45"/>
<rect x="733" y="503" width="1" height="33" fill="#EA4A45"/>
<rect x="732" y="510" width="3" height="23" fill="#EA4A45"/>
<rect x="739" y="520" width="1" height="21" fill="#1C4B9E"/>
<rect x="738" y="527" width="3" height="5" fill="#1C4B9E"/>
<rect x="739" y="528" width="1" height="3" fill="#fff"/>
<rect x="746" y="493" width="1" height="34" fill="#1C4B9E"/>
<rect x="745" y="512" width="3" height="12" fill="#1C4B9E"/>
<rect x="746" y="513" width="1" height="10" fill="#fff"/>
<rect x="752" y="510" width="1" height="36" fill="#EA4A45"/>
<rect x="751" y="511" width="3" height="23" fill="#EA4A45"/>
<rect x="758" y="518" width="1" height="31" fill="#EA4A45"/>
<rect x="757" y="527" width="3" height="12" fill="#EA4A45"/>
<rect x="765" y="506" width="1" height="35" fill="#1C4B9E"/>
<rect x="764" y="508" width="3" height="28" fill="#1C4B9E"/>
<rect x="765" y="509" width="1" height="26" fill="#fff"/>
<rect x="771" y="510" width="1" height="40" fill="#EA4A45"/>
<rect x="770" y="511" width="3" height="22" fill="#EA4A45"/>
<rect x="778" y="485" width="1" height="51" fill="#1C4B9E"/>
<rect x="777" y="488" width="3" height="42" fill="#1C4B9E"/>
<rect x="778" y="489" width="1" height="40" fill="#fff"/>
<rect x="784" y="483" width="1" height="19" fill="#EA4A45"/>
<rect x="783" y="491" width="3" height="7" fill="#EA4A45"/>
<rect x="791" y="497" width="1" height="9" fill="#EA4A45"/>
<rect x="790" y="501" width="3" height="1" fill="#EA4A45"/>
<rect x="797" y="479" width="1" height="42" fill="#1C4B9E"/>
<rect x="796" y="481" width="3" height="27" fill="#1C4B9E"/>
<rect x="797" y="482" width="1" height="25" fill="#fff"/>
<rect x="804" y="478" width="1" height="21" fill="#EA4A45"/>
<rect x="803" y="485" width="3" height="4" fill="#EA4A45"/>
<rect x="810" y="461" width="1" height="29" fill="#1C4B9E"/>
<rect x="809" y="464" width="3" height="26" fill="#1C4B9E"/>
<rect x="810" y="465" width="1" height="24" fill="#fff"/>
<rect x="816" y="463" width="1" height="20" fill="#EA4A45"/>
<rect x="815" y="464" width="3" height="12" fill="#EA4A45"/>
<rect x="823" y="472" width="1" height="14" fill="#EA4A45"/>
<rect x="822" y="476" width="3" height="4" fill="#EA4A45"/>
<rect x="829" y="455" width="1" height="19" fill="#1C4B9E"/>
<rect x="828" y="458" width="3" height="16" fill="#1C4B9E"/>
<rect x="829" y="459" width="1" height="14" fill="#fff"/>
<rect x="836" y="441" width="1" height="17" fill="#1C4B9E"/>
<rect x="835" y="453" width="3" height="2" fill="#1C4B9E"/>
<rect x="842" y="444" width="1" height="12" fill="#1C4B9E"/>
<rect x="841" y="445" width="3" height="11" fill="#1C4B9E"/>
<rect x="842" y="446" width="1" height="9" fill="#fff"/>
<rect x="849" y="435" width="1" height="17" fill="#1C4B9E"/>
<rect x="848" y="440" width="3" height="5" fill="#1C4B9E"/>
<rect x="849" y="441" width="1" height="3" fill="#fff"/>
<rect x="855" y="414" width="1" height="33" fill="#1C4B9E"/>
<rect x="854" y="424" width="3" height="23" fill="#1C4B9E"/>
<rect x="855" y="425" width="1" height="21" fill="#fff"/>
<rect x="862" y="384" width="1" height="47" fill="#1C4B9E"/>
<rect x="861" y="415" width="3" height="15" fill="#1C4B9E"/>
<rect x="862" y="416" width="1" height="13" fill="#fff"/>
<rect x="868" y="409" width="1" height="24" fill="#EA4A45"/>
<rect x="867" y="414" width="3" height="19" fill="#EA4A45"/>
<rect x="874" y="436" width="1" height="11" fill="#EA4A45"/>
<rect x="873" y="436" width="3" height="5" fill="#EA4A45"/>
<rect x="881" y="433" width="1" height="14" fill="#1C4B9E"/>
<rect x="880" y="435" width="3" height="3" fill="#1C4B9E"/>
<rect x="881" y="436" width="1" height="1" fill="#fff"/>
<rect x="887" y="434" width="1" height="27" fill="#EA4A45"/>
<rect x="886" y="435" width="3" height="22" fill="#EA4A45"/>
<rect x="894" y="449" width="1" height="18" fill="#EA4A45"/>
<rect x="893" y="461" width="3" height="4" fill="#EA4A45"/>
<rect x="900" y="449" width="1" height="18" fill="#1C4B9E"/>
<rect x="899" y="462" width="3" height="2" fill="#1C4B9E"/>
<rect x="907" y="441" width="1" height="20" fill="#1C4B9E"/>
<rect x="906" y="444" width="3" height="17" fill="#1C4B9E"/>
<rect x="907" y="445" width="1" height="15" fill="#fff"/>
<rect x="913" y="440" width="1" height="18" fill="#EA4A45"/>
<rect x="912" y="444" width="3" height="5" fill="#EA4A45"/>
<rect x="920" y="423" width="1" height="26" fill="#1C4B9E"/>
<rect x="919" y="427" width="3" height="22" fill="#1C4B9E"/>
<rect x="920" y="428" width="1" height="20" fill="#fff"/>
<rect x="926" y="410" width="1" height="20" fill="#1C4B9E"/>
<rect x="925" y="414" width="3" height="16" fill="#1C4B9E"/>
<rect x="926" y="415" width="1" height="14" fill="#fff"/>
<rect x="933" y="407" width="1" height="18" fill="#1C4B9E"/>
<rect x="932" y="408" width="3" height="3" fill="#1C4B9E"/>
<rect x="939" y="404" width="1" height="27" fill="#EA4A45"/>
<rect x="938" y="410" width="3" height="9" fill="#EA4A45"/>
<rect x="945" y="413" width="1" height="21" fill="#EA4A45"/>
<rect x="944" y="415" width="3" height="17" fill="#EA4A45"/>
<rect x="952" y="424" width="1" height="13" fill="#EA4A45"/>
<rect x="951" y="431" width="3" height="5" fill="#EA4A45"/>
<rect x="958" y="431" width="1" height="17" fill="#EA4A45"/>
<rect x="957" y="435" width="3" height="6" fill="#EA4A45"/>
<rect x="965" y="420" width="1" height="29" fill="#1C4B9E"/>
<rect x="964" y="423" width="3" height="16" fill="#1C4B9E"/>
<rect x="965" y="424" width="1" height="14" fill="#fff"/>
<rect x="971" y="406" width="1" height="22" fill="#1C4B9E"/>
<rect x="970" y="419" width="3" height="7" fill="#1C4B9E"/>
<rect x="971" y="420" width="1" height="5" fill="#fff"/>
<rect x="978" y="411" width="1" height="12" fill="#1C4B9E"/>
<rect x="977" y="417" width="3" height="2" fill="#1C4B9E"/>
<rect x="984" y="404" width="1" height="16" fill="#1C4B9E"/>
<rect x="983" y="405" width="3" height="15" fill="#1C4B9E"/>
<rect x="984" y="406" width="1" height="13" fill="#fff"/>
<rect x="991" y="382" width="1" height="23" fill="#1C4B9E"/>
<rect x="990" y="383" width="3" height="22" fill="#1C4B9E"/>
<rect x="991" y="384" width="1" height="20" fill="#fff"/>
<rect x="997" y="383" width="1" height="15" fill="#EA4A45"/>
<rect x="996" y="384" width="3" height="14" fill="#EA4A45"/>
<rect x="1003" y="373" width="1" height="27" fill="#1C4B9E"/>
<rect x="1002" y="380" width="3" height="20" fill="#1C4B9E"/>
<rect x="1003" y="381" width="1" height="18" fill="#fff"/>
<rect x="1010" y="372" width="1" height="16" fill="#EA4A45"/>
<rect x="1009" y="381" width="3" height="7" fill="#EA4A45"/>
<rect x="1016" y="372" width="1" height="16" fill="#1C4B9E"/>
<rect x="1015" y="378" width="3" height="9" fill="#1C4B9E"/>
<rect x="1016" y="379" width="1" height="7" fill="#fff"/>
<rect x="1023" y="367" width="1" height="15" fill="#1C4B9E"/>
<rect x="1022" y="377" width="3" height="3" fill="#1C4B9E"/>
<rect x="1023" y="378" width="1" height="1" fill="#fff"/>
<rect x="1029" y="352" width="1" height="30" fill="#1C4B9E"/>
<rect x="1028" y="359" width="3" height="20" fill="#1C4B9E"/>
<rect x="1029" y="360" width="1" height="18" fill="#fff"/>
<rect x="1036" y="350" width="1" height="30" fill="#EA4A45"/>
<rect x="1035" y="359" width="3" height="17" fill="#EA4A45"/>
<rect x="1042" y="365" width="1" height="12" fill="#1C4B9E"/>
<rect x="1041" y="370" width="3" height="5" fill="#1C4B9E"/>
<rect x="1042" y="371" width="1" height="3" fill="#fff"/>
<rect x="1049" y="349" width="1" height="23" fill="#1C4B9E"/>
<rect x="1048" y="350" width="3" height="21" fill="#1C4B9E"/>
<rect x="1049" y="351" width="1" height="19" fill="#fff"/>
<rect x="1055" y="351" width="1" height="16" fill="#EA4A45"/>
<rect x="1054" y="351" width="3" height="16" fill="#EA4A45"/>
<rect x="1062" y="362" width="1" height="22" fill="#EA4A45"/>
<rect x="1061" y="366" width="3" height="15" fill="#EA4A45"/>
<rect x="1068" y="374" width="1" height="13" fill="#EA4A45"/>
<rect x="1067" y="379" width="3" height="6" fill="#EA4A45"/>
<rect x="1074" y="381" width="1" height="14" fill="#EA4A45"/>
<rect x="1073" y="386" width="3" height="3" fill="#EA4A45"/>
<rect x="1081" y="387" width="1" height="20" fill="#EA4A45"/>
<rect x="1080" y="389" width="3" height="13" fill="#EA4A45"/>
<rect x="1087" y="395" width="1" height="18" fill="#EA4A45"/>
<rect x="1086" y="403" width="3" height="8" fill="#EA4A45"/>
<rect x="1094" y="400" width="1" height="26" fill="#EA4A45"/>
<rect x="1093" y="407" width="3" height="17" fill="#EA4A45"/>
<rect x="1100" y="415" width="1" height="14" fill="#EA4A45"/>
<rect x="1099" y="424" width="3" height="5" fill="#EA4A45"/>
<rect x="1107" y="395" width="1" height="33" fill="#1C4B9E"/>
<rect x="1106" y="398" width="3" height="28" fill="#1C4B9E"/>
<rect x="1107" y="399" width="1" height="26" fill="#fff"/>
<rect x="1113" y="396" width="1" height="10" fill="#1C4B9E"/>
<rect x="1112" y="397" width="3" height="3" fill="#1C4B9E"/>
<rect x="1113" y="398" width="1" height="1" fill="#fff"/>
<rect x="1120" y="370" width="1" height="30" fill="#1C4B9E"/>
<rect x="1119" y="377" width="3" height="23" fill="#1C4B9E"/>
<rect x="1120" y="378" width="1" height="21" fill="#fff"/>
<rect x="1126" y="373" width="1" height="7" fill="#1C4B9E"/>
<rect x="1125" y="374" width="3" height="3" fill="#1C4B9E"/>
<rect x="1126" y="375" width="1" height="1" fill="#fff"/>
<rect x="1132" y="346" width="1" height="30" fill="#1C4B9E"/>
<rect x="1131" y="347" width="3" height="28" fill="#1C4B9E"/>
<rect x="1132" y="348" width="1" height="26" fill="#fff"/>
<rect x="1139" y="347" width="1" height="9" fill="#EA4A45"/>
<rect x="1138" y="350" width="3" height="2" fill="#EA4A45"/>
<rect x="1145" y="324" width="1" height="29" fill="#1C4B9E"/>
<rect x="1144" y="328" width="3" height="25" fill="#1C4B9E"/>
<rect x="1145" y="329" width="1" height="23" fill="#fff"/>
<rect x="1152" y="322" width="1" height="12" fill="#1C4B9E"/>
<rect x="1151" y="327" width="3" height="1" fill="#1C4B9E"/>
<rect x="1158" y="323" width="1" height="5" fill="#EA4A45"/>
<rect x="1157" y="325" width="3" height="3" fill="#EA4A45"/>
<rect x="1165" y="328" width="1" height="18" fill="#EA4A45"/>
<rect x="1164" y="332" width="3" height="10" fill="#EA4A45"/>
<rect x="1171" y="329" width="1" height="11" fill="#1C4B9E"/>
<rect x="1170" y="335" width="3" height="5" fill="#1C4B9E"/>
<rect x="1171" y="336" width="1" height="3" fill="#fff"/>
<rect x="1178" y="332" width="1" height="8" fill="#1C4B9E"/>
<rect x="1177" y="333" width="3" height="5" fill="#1C4B9E"/>
<rect x="1178" y="334" width="1" height="3" fill="#fff"/>
<rect x="1184" y="326" width="1" height="9" fill="#1C4B9E"/>
<rect x="1183" y="329" width="3" height="3" fill="#1C4B9E"/>
<rect x="1191" y="313" width="1" height="17" fill="#1C4B9E"/>
<rect x="1190" y="313" width="3" height="16" fill="#1C4B9E"/>
<rect x="1191" y="314" width="1" height="14" fill="#fff"/>
<rect x="1197" y="281" width="1" height="43" fill="#1C4B9E"/>
<rect x="1196" y="287" width="3" height="30" fill="#1C4B9E"/>
<rect x="1197" y="288" width="1" height="28" fill="#fff"/>
<rect x="1203" y="285" width="1" height="17" fill="#EA4A45"/>
<rect x="1202" y="287" width="3" height="2" fill="#EA4A45"/>
<rect x="1210" y="277" width="1" height="17" fill="#1C4B9E"/>
<rect x="1209" y="278" width="3" height="15" fill="#1C4B9E"/>
<rect x="1210" y="279" width="1" height="13" fill="#fff"/>
<rect x="1216" y="267" width="1" height="12" fill="#1C4B9E"/>
<rect x="1215" y="268" width="3" height="11" fill="#1C4B9E"/>
<rect x="1216" y="269" width="1" height="9" fill="#fff"/>
<rect x="1223" y="260" width="1" height="13" fill="#EA4A45"/>
<rect x="1222" y="268" width="3" height="1" fill="#EA4A45"/>
<rect x="1229" y="269" width="1" height="7" fill="#EA4A45"/>
<rect x="1228" y="271" width="3" height="5" fill="#EA4A45"/>
<rect x="1236" y="260" width="1" height="15" fill="#1C4B9E"/>
<rect x="1235" y="266" width="3" height="8" fill="#1C4B9E"/>
<rect x="1236" y="267" width="1" height="6" fill="#fff"/>
<rect x="1242" y="260" width="1" height="6" fill="#1C4B9E"/>
<rect x="1241" y="260" width="3" height="6" fill="#1C4B9E"/>
<rect x="1242" y="261" width="1" height="4" fill="#fff"/>
<rect x="1249" y="260" width="1" height="15" fill="#EA4A45"/>
<rect x="1248" y="263" width="3" height="2" fill="#EA4A45"/>
<rect x="1255" y="260" width="1" height="18" fill="#EA4A45"/>
<rect x="1254" y="260" width="3" height="17" fill="#EA4A45"/>
<rect x="1261" y="273" width="1" height="20" fill="#EA4A45"/>
<rect x="1260" y="275" width="3" height="16" fill="#EA4A45"/>
<rect x="1268" y="278" width="1" height="16" fill="#1C4B9E"/>
<rect x="1267" y="282" width="3" height="6" fill="#1C4B9E"/>
<rect x="1268" y="283" width="1" height="4" fill="#fff"/>
<rect x="1274" y="274" width="1" height="16" fill="#1C4B9E"/>
<rect x="1273" y="280" width="3" height="3" fill="#1C4B9E"/>
<rect x="1274" y="281" width="1" height="1" fill="#fff"/>
<rect x="1281" y="275" width="1" height="25" fill="#EA4A45"/>
<rect x="1280" y="278" width="3" height="5" fill="#EA4A45"/>
<rect x="1287" y="269" width="1" height="22" fill="#1C4B9E"/>
<rect x="1286" y="280" width="3" height="2" fill="#1C4B9E"/>
<rect x="1294" y="274" width="1" height="10" fill="#1C4B9E"/>
<rect x="1293" y="276" width="3" height="5" fill="#1C4B9E"/>
<rect x="1294" y="277" width="1" height="3" fill="#fff"/>
<rect x="1300" y="271" width="1" height="15" fill="#1C4B9E"/>
<rect x="1299" y="273" width="3" height="3" fill="#1C4B9E"/>
<rect x="1300" y="274" width="1" height="1" fill="#fff"/>
<rect x="1307" y="270" width="1" height="25" fill="#EA4A45"/>
<rect x="1306" y="271" width="3" height="21" fill="#EA4A45"/>
<rect x="1313" y="270" width="1" height="23" fill="#1C4B9E"/>
<rect x="1312" y="278" width="3" height="15" fill="#1C4B9E"/>
<rect x="1313" y="279" width="1" height="13" fill="#fff"/>
<rect x="1319" y="269" width="1" height="36" fill="#EA4A45"/>
<rect x="1318" y="274" width="3" height="18" fill="#EA4A45"/>
<rect x="1326" y="286" width="1" height="24" fill="#EA4A45"/>
<rect x="1325" y="291" width="3" height="14" fill="#EA4A45"/>
<rect x="1332" y="301" width="1" height="19" fill="#EA4A45"/>
<rect x="1331" y="303" width="3" height="9" fill="#EA4A45"/>
<rect x="1339" y="293" width="1" height="19" fill="#1C4B9E"/>
<rect x="1338" y="296" width="3" height="13" fill="#1C4B9E"/>
<rect x="1339" y="297" width="1" height="11" fill="#fff"/>
<rect x="1345" y="283" width="1" height="14" fill="#1C4B9E"/>
<rect x="1344" y="293" width="3" height="2" fill="#1C4B9E"/>
<rect x="1352" y="283" width="1" height="21" fill="#1C4B9E"/>
<rect x="1351" y="287" width="3" height="5" fill="#1C4B9E"/>
<rect x="1352" y="288" width="1" height="3" fill="#fff"/>
<rect x="1358" y="281" width="1" height="30" fill="#EA4A45"/>
<rect x="1357" y="287" width="3" height="18" fill="#EA4A45"/>
<rect x="1365" y="304" width="1" height="41" fill="#EA4A45"/>
<rect x="1364" y="319" width="3" height="5" fill="#EA4A45"/>
<rect x="1371" y="305" width="1" height="23" fill="#1C4B9E"/>
<rect x="1370" y="310" width="3" height="14" fill="#1C4B9E"/>
<rect x="1371" y="311" width="1" height="12" fill="#fff"/>
<rect x="1378" y="294" width="1" height="20" fill="#1C4B9E"/>
<rect x="1377" y="295" width="3" height="14" fill="#1C4B9E"/>
<rect x="1378" y="296" width="1" height="12" fill="#fff"/>
<rect x="1384" y="292" width="1" height="16" fill="#EA4A45"/>
<rect x="1383" y="294" width="3" height="8" fill="#EA4A45"/>
<rect x="1390" y="301" width="1" height="11" fill="#EA4A45"/>
<rect x="1389" y="304" width="3" height="7" fill="#EA4A45"/>
<rect x="1397" y="294" width="1" height="20" fill="#1C4B9E"/>
<rect x="1396" y="294" width="3" height="16" fill="#1C4B9E"/>
<rect x="1397" y="295" width="1" height="14" fill="#fff"/>
<rect x="1403" y="278" width="1" height="17" fill="#1C4B9E"/>
<rect x="1402" y="280" width="3" height="12" fill="#1C4B9E"/>
<rect x="1403" y="281" width="1" height="10" fill="#fff"/>
<rect x="1410" y="276" width="1" height="11" fill="#1C4B9E"/>
<rect x="1409" y="278" width="3" height="1" fill="#1C4B9E"/>
<rect x="1416" y="277" width="1" height="19" fill="#EA4A45"/>
<rect x="1415" y="280" width="3" height="16" fill="#EA4A45"/>
<rect x="1423" y="290" width="1" height="9" fill="#1C4B9E"/>
<rect x="1422" y="291" width="3" height="6" fill="#1C4B9E"/>
<rect x="1423" y="292" width="1" height="4" fill="#fff"/>
<rect x="1429" y="285" width="1" height="12" fill="#EA4A45"/>
<rect x="1428" y="291" width="3" height="3" fill="#EA4A45"/>
<rect x="1436" y="292" width="1" height="14" fill="#EA4A45"/>
<rect x="1435" y="292" width="3" height="11" fill="#EA4A45"/>
<rect x="1442" y="286" width="1" height="16" fill="#1C4B9E"/>
<rect x="1441" y="293" width="3" height="9" fill="#1C4B9E"/>
<rect x="1442" y="294" width="1" height="7" fill="#fff"/>
<rect x="1448" y="278" width="1" height="16" fill="#1C4B9E"/>
<rect x="1447" y="278" width="3" height="15" fill="#1C4B9E"/>
<rect x="1448" y="279" width="1" height="13" fill="#fff"/>
<rect x="1455" y="272" width="1" height="14" fill="#EA4A45"/>
<rect x="1454" y="276" width="3" height="10" fill="#EA4A45"/>
<rect x="1461" y="258" width="1" height="28" fill="#1C4B9E"/>
<rect x="1460" y="259" width="3" height="26" fill="#1C4B9E"/>
<rect x="1461" y="260" width="1" height="24" fill="#fff"/>
<rect x="1468" y="244" width="1" height="11" fill="#1C4B9E"/>
<rect x="1467" y="248" width="3" height="4" fill="#1C4B9E"/>
<rect x="1468" y="249" width="1" height="2" fill="#fff"/>
<rect x="1474" y="241" width="1" height="10" fill="#1C4B9E"/>
<rect x="1473" y="244" width="3" height="6" fill="#1C4B9E"/>
<rect x="1474" y="245" width="1" height="4" fill="#fff"/>
<rect x="1481" y="241" width="1" height="12" fill="#EA4A45"/>
<rect x="1480" y="244" width="3" height="4" fill="#EA4A45"/>
<rect x="1487" y="244" width="1" height="29" fill="#EA4A45"/>
<rect x="1486" y="246" width="3" height="23" fill="#EA4A45"/>
<rect x="1494" y="266" width="1" height="6" fill="#EA4A45"/>
<rect x="1493" y="269" width="3" height="2" fill="#EA4A45"/>
<rect x="1500" y="271" width="1" height="8" fill="#EA4A45"/>
<rect x="1499" y="273" width="3" height="2" fill="#EA4A45"/>
<rect x="1507" y="266" width="1" height="25" fill="#EA4A45"/>
<rect x="1506" y="268" width="3" height="23" fill="#EA4A45"/>
<rect x="1513" y="263" width="1" height="30" fill="#1C4B9E"/>
<rect x="1512" y="263" width="3" height="30" fill="#1C4B9E"/>
<rect x="1513" y="264" width="1" height="28" fill="#fff"/>
<rect x="1519" y="255" width="1" height="7" fill="#1C4B9E"/>
<rect x="1518" y="260" width="3" height="2" fill="#1C4B9E"/>
<rect x="1526" y="251" width="1" height="10" fill="#1C4B9E"/>
<rect x="1525" y="257" width="3" height="4" fill="#1C4B9E"/>
<rect x="1526" y="258" width="1" height="2" fill="#fff"/>
<rect x="1532" y="252" width="1" height="15" fill="#EA4A45"/>
<rect x="1531" y="263" width="3" height="3" fill="#EA4A45"/>
<rect x="1532" y="264" width="1" height="1" fill="#fff"/>
<rect x="1539" y="260" width="1" height="10" fill="#1C4B9E"/>
<rect x="1538" y="260" width="3" height="1" fill="#1C4B9E"/>
</g>
<path d="M334.0 394.6 L341.6 400.0 L349.2 405.3 L356.8 410.5 L364.3 415.6 L371.9 420.7 L379.5 425.6 L387.1 430.5 L394.7 435.2 L402.3 439.9 L409.8 444.5 L417.4 449.0 L425.0 453.4 L432.6 457.7 L440.2 462.0 L447.8 466.1 L455.3 470.2 L462.9 474.2 L470.5 478.1 L478.1 481.9 L485.7 485.6 L493.3 489.2 L500.8 492.8 L508.4 496.2 L516.0 499.6 L523.6 502.9 L531.2 506.1 L538.8 509.2 L546.4 512.2 L553.9 515.1 L561.5 518.0 L569.1 520.7 L576.7 523.4 L584.3 526.0 L591.9 528.5 L599.4 530.9 L607.0 533.2 L614.6 535.5 L622.2 537.6 L629.8 539.7 L637.4 541.7 L644.9 543.5 L652.5 545.3 L660.1 547.0 L667.7 548.7 L675.3 550.2 L682.9 551.6 L690.4 553.0 L698.0 554.3 L705.6 555.4 L713.2 556.5 L720.8 557.5 L728.4 558.4 L736.0 559.2 L743.5 560.0 L751.1 560.6 L758.7 561.1 L766.3 561.6 L773.9 562.0 L781.5 562.2 L789.0 562.4 L796.6 562.5 L804.2 562.5 L811.8 562.4 L819.4 562.2 L827.0 561.9 L834.5 561.5 L842.1 561.1 L849.7 560.5 L857.3 559.8 L864.9 559.1 L872.5 558.2 L880.1 557.3 L887.6 556.2 L895.2 555.1 L902.8 553.8 L910.4 552.5 L918.0 551.1 L925.6 549.5 L933.1 547.9 L940.7 546.2 L948.3 544.3 L955.9 542.4 L963.5 540.4 L971.1 538.2 L978.6 536.0 L986.2 533.6 L993.8 531.2 L1001.4 528.6 L1009.0 526.0 L1016.6 523.2 L1024.1 520.4 L1031.7 517.4 L1039.3 514.3 L1046.9 511.1 L1054.5 507.8 L1062.1 504.4 L1069.7 500.9 L1077.2 497.3 L1084.8 493.6 L1092.4 489.7 L1100.0 485.8 L1107.6 481.7 L1115.2 477.5 L1122.7 473.2 L1130.3 468.8 L1137.9 464.3 L1145.5 459.6 L1153.1 454.9 L1160.7 450.0 L1168.2 445.0 L1175.8 439.8 L1183.4 434.6 L1191.0 429.2 L1198.6 423.8 L1206.2 418.1 L1213.7 412.4 L1221.3 406.5 L1228.9 400.6 L1236.5 394.4" fill="none" stroke="#3F74A6" stroke-width="2.2" stroke-linecap="butt" stroke-linejoin="round"/>
<path d="M1223.9 306.2 L1228.8 308.8 L1233.7 311.3 L1238.6 313.7 L1243.5 316.1 L1248.5 318.4 L1253.4 320.6 L1258.3 322.7 L1263.2 324.7 L1268.1 326.7 L1273.0 328.6 L1277.9 330.4 L1282.8 332.1 L1287.8 333.7 L1292.7 335.2 L1297.6 336.7 L1302.5 338.0 L1307.4 339.3 L1312.3 340.5 L1317.2 341.6 L1322.1 342.6 L1327.0 343.5 L1332.0 344.4 L1336.9 345.1 L1341.8 345.8 L1346.7 346.3 L1351.6 346.8 L1356.5 347.1 L1361.4 347.4 L1366.3 347.6 L1371.3 347.7 L1376.2 347.7 L1381.1 347.6 L1386.0 347.4 L1390.9 347.1 L1395.8 346.7 L1400.7 346.2 L1405.6 345.6 L1410.6 344.8 L1415.5 344.0 L1420.4 343.1 L1425.3 342.1 L1430.2 341.0 L1435.1 339.8 L1440.0 338.4 L1444.9 337.0 L1449.8 335.5 L1454.8 333.8 L1459.7 332.0 L1464.6 330.2 L1469.5 328.2 L1474.4 326.1 L1479.3 323.9 L1484.2 321.5 L1489.1 319.1 L1494.1 316.5 L1499.0 313.9 L1503.9 311.1 L1508.8 308.2 L1513.7 305.2" fill="none" stroke="#3F74A6" stroke-width="2.0" stroke-linejoin="round"/>
<rect x="21" y="258.9" width="1805" height="3.1" fill="#000"/>
<rect x="21" y="262" width="1805" height="1" fill="#000" opacity="0.28"/>
<line x1="21" y1="262.5" x2="1826" y2="262.5" stroke="#000" stroke-width="1" stroke-dasharray="3 4" stroke-dashoffset="3" opacity="0.9" shape-rendering="crispEdges"/>
<rect x="261.80" y="213.80" width="1.3" height="23.20" fill="#000"/>
<path d="M257.35 234.70 L267.55 234.70 L262.45 245.00 Z" fill="#000"/>
<rect x="1235.95" y="213.70" width="1.3" height="23.10" fill="#000"/>
<path d="M1231.50 234.50 L1241.70 234.50 L1236.60 244.80 Z" fill="#000"/>
<rect x="1512.85" y="211.00" width="1.3" height="23.30" fill="#000"/>
<path d="M1508.40 232.00 L1518.60 232.00 L1513.50 242.30 Z" fill="#000"/>
<text x="1864.00" y="92.02" font-size="11" fill="#737373" text-anchor="end" textLength="38.25" lengthAdjust="spacingAndGlyphs" stroke="#737373" stroke-width="0.3">101.17</text>
<text x="1864.00" y="143.18" font-size="11" fill="#737373" text-anchor="end" textLength="31.30" lengthAdjust="spacingAndGlyphs" stroke="#737373" stroke-width="0.3">81.74</text>
<text x="1864.00" y="194.34" font-size="11" fill="#737373" text-anchor="end" textLength="31.30" lengthAdjust="spacingAndGlyphs" stroke="#737373" stroke-width="0.3">66.04</text>
<text x="1864.00" y="245.50" font-size="11" fill="#737373" text-anchor="end" textLength="31.30" lengthAdjust="spacingAndGlyphs" stroke="#737373" stroke-width="0.3">53.36</text>
<text x="1864.00" y="296.66" font-size="11" fill="#737373" text-anchor="end" textLength="31.30" lengthAdjust="spacingAndGlyphs" stroke="#737373" stroke-width="0.3">43.12</text>
<text x="1864.00" y="347.82" font-size="11" fill="#737373" text-anchor="end" textLength="31.30" lengthAdjust="spacingAndGlyphs" stroke="#737373" stroke-width="0.3">34.84</text>
<text x="1864.00" y="398.98" font-size="11" fill="#737373" text-anchor="end" textLength="31.30" lengthAdjust="spacingAndGlyphs" stroke="#737373" stroke-width="0.3">28.15</text>
<text x="1864.00" y="450.14" font-size="11" fill="#737373" text-anchor="end" textLength="31.30" lengthAdjust="spacingAndGlyphs" stroke="#737373" stroke-width="0.3">22.74</text>
<text x="1864.00" y="501.30" font-size="11" fill="#737373" text-anchor="end" textLength="31.30" lengthAdjust="spacingAndGlyphs" stroke="#737373" stroke-width="0.3">18.38</text>
<text x="1864.00" y="552.46" font-size="11" fill="#737373" text-anchor="end" textLength="31.30" lengthAdjust="spacingAndGlyphs" stroke="#737373" stroke-width="0.3">14.85</text>
<text x="1864.00" y="603.62" font-size="11" fill="#737373" text-anchor="end" textLength="31.30" lengthAdjust="spacingAndGlyphs" stroke="#737373" stroke-width="0.3">12.00</text>
<text x="1864.00" y="654.78" font-size="11" fill="#737373" text-anchor="end" textLength="24.35" lengthAdjust="spacingAndGlyphs" stroke="#737373" stroke-width="0.3">9.69</text>
<text x="1864.00" y="705.94" font-size="11" fill="#737373" text-anchor="end" textLength="24.35" lengthAdjust="spacingAndGlyphs" stroke="#737373" stroke-width="0.3">7.83</text>
<rect x="1825" y="252" width="43" height="18.8" rx="2.5" ry="2.5" fill="#B71C00"/>
<text x="1862.70" y="265.00" font-size="11" fill="#fff" text-anchor="end" textLength="30.50" lengthAdjust="spacingAndGlyphs" stroke="#fff" stroke-width="0.3">50.13</text>
<text x="1820.00" y="253.90" font-size="11" fill="#000" text-anchor="end" textLength="31.30" lengthAdjust="spacingAndGlyphs" font-weight="bold">50.46</text>
<rect x="56.3" y="775.2" width="1483.6" height="101.6" fill="#ECF0FC"/>
<rect x="56.3" y="825.1" width="1483.6" height="1.5" fill="#D3D3EE"/>
<rect x="56.3" y="775" width="1483.6" height="1" fill="#E6E9F8"/>
<rect x="56.3" y="876" width="1483.6" height="1" fill="#E8EBF9"/>
<path d="M1539.4 775.2 V876.8 M56.8 775.2 V876.8" fill="none" stroke="#DDE0F6" stroke-width="1" stroke-dasharray="1.5 1.5"/>
<path d="M56.5 798.9 L62.9 794.1 L69.4 788.6 L75.8 780.0 L82.3 778.0 L88.7 784.1 L95.2 809.7 L101.6 796.0 L108.1 805.3 L114.5 807.8 L120.9 809.7 L127.4 811.2 L133.8 806.3 L140.3 789.6 L146.7 787.7 L153.2 793.7 L159.6 788.9 L166.1 781.5 L172.5 779.7 L179.0 795.1 L185.4 784.1 L191.9 767.6 L198.3 764.3 L204.8 793.7 L211.2 806.3 L217.7 792.9 L224.1 800.8 L230.6 807.5 L237.0 806.2 L243.5 792.3 L249.9 785.9 L256.4 783.4 L262.8 790.8 L269.3 784.4 L275.7 817.2 L282.2 821.9 L288.6 821.6 L295.1 827.3 L301.5 829.8 L308.0 839.5 L314.4 828.6 L320.9 832.8 L327.3 842.5 L333.8 857.1 L340.2 847.7 L346.7 851.8 L353.1 842.9 L359.6 823.9 L366.0 818.7 L372.5 816.1 L378.9 818.7 L385.4 833.1 L391.8 839.0 L398.3 842.8 L404.7 850.7 L411.2 843.2 L417.6 851.4 L424.1 843.7 L430.5 844.6 L437.0 827.6 L443.4 810.2 L449.9 815.4 L456.3 819.9 L462.8 829.5 L469.2 810.5 L475.6 808.2 L482.1 799.6 L488.5 791.9 L495.0 821.3 L501.4 827.9 L507.9 854.8 L514.3 865.2 L520.8 867.0 L527.2 870.0 L533.7 873.4 L540.1 865.2 L546.6 874.8 L553.0 881.5 L559.5 854.8 L565.9 866.6 L572.4 867.5 L578.8 875.5 L585.3 876.4 L591.7 868.5 L598.2 873.3 L604.6 874.9 L611.1 877.9 L617.5 879.7 L624.0 861.5 L630.4 860.6 L636.9 867.8 L643.3 879.2 L649.8 869.3 L656.2 871.9 L662.7 867.0 L669.1 863.3 L675.6 847.7 L682.0 846.9 L688.5 840.5 L694.9 838.0 L701.4 846.6 L707.8 855.1 L714.3 859.3 L720.7 845.4 L727.2 855.1 L733.6 863.6 L740.1 861.1 L746.5 851.0 L753.0 859.3 L759.4 861.5 L765.9 841.7 L772.3 851.7 L778.8 827.3 L785.2 832.1 L791.7 834.3 L798.1 822.8 L804.6 826.8 L811.0 813.2 L817.5 819.9 L823.9 823.1 L830.4 810.0 L836.8 807.1 L843.2 801.8 L849.7 798.9 L856.1 789.2 L862.6 784.1 L869.0 801.1 L875.5 809.3 L881.9 805.7 L888.4 823.4 L894.8 829.4 L901.3 828.3 L907.7 814.2 L914.2 817.6 L920.6 801.8 L927.1 793.1 L933.5 790.7 L940.0 799.8 L946.4 813.2 L952.9 817.2 L959.3 822.1 L965.8 807.5 L972.2 804.8 L978.7 803.3 L985.1 793.4 L991.6 777.3 L998.0 795.6 L1004.5 783.7 L1010.9 792.2 L1017.4 786.4 L1023.8 784.9 L1030.3 773.3 L1036.7 794.9 L1043.2 791.1 L1049.6 778.5 L1056.1 797.4 L1062.5 810.5 L1069.0 814.5 L1075.4 818.7 L1081.9 830.3 L1088.3 837.3 L1094.8 846.2 L1101.2 849.2 L1107.7 823.6 L1114.1 823.1 L1120.6 807.2 L1127.0 805.0 L1133.5 785.9 L1139.9 790.7 L1146.4 776.2 L1152.8 775.5 L1159.3 776.5 L1165.7 795.3 L1172.2 789.6 L1178.6 788.6 L1185.1 787.4 L1191.5 773.3 L1197.9 758.4 L1204.4 760.6 L1210.8 755.4 L1217.3 750.2 L1223.7 750.7 L1230.2 764.0 L1236.6 757.6 L1243.1 755.7 L1249.5 760.3 L1256.0 783.7 L1262.4 804.2 L1268.9 797.1 L1275.3 795.6 L1281.8 798.9 L1288.2 796.0 L1294.7 791.6 L1301.1 788.6 L1307.6 818.4 L1314.0 803.5 L1320.5 820.6 L1326.9 834.6 L1333.4 841.4 L1339.8 824.6 L1346.3 821.3 L1352.7 815.7 L1359.2 833.1 L1365.6 848.7 L1372.1 836.1 L1378.5 822.4 L1385.0 828.3 L1391.4 835.3 L1397.9 820.1 L1404.3 809.3 L1410.8 808.2 L1417.2 824.3 L1423.7 820.9 L1430.1 822.7 L1436.6 831.3 L1443.0 821.6 L1449.5 808.5 L1455.9 816.4 L1462.4 793.8 L1468.8 786.7 L1475.3 783.2 L1481.7 787.9 L1488.2 813.9 L1494.6 816.4 L1501.1 819.9 L1507.5 834.7 L1514.0 811.7 L1520.4 809.3 L1526.9 806.5 L1533.3 813.0 L1539.8 812.7" fill="none" stroke="#3C3CF3" stroke-width="1.1" stroke-linejoin="round"/>
<text x="1859.00" y="754.80" font-size="11" fill="#737373" text-anchor="end" textLength="31.30" lengthAdjust="spacingAndGlyphs" stroke="#737373" stroke-width="0.3">80.00</text>
<text x="1859.00" y="805.50" font-size="11" fill="#737373" text-anchor="end" textLength="31.30" lengthAdjust="spacingAndGlyphs" stroke="#737373" stroke-width="0.3">60.00</text>
<text x="1859.00" y="855.80" font-size="11" fill="#737373" text-anchor="end" textLength="31.30" lengthAdjust="spacingAndGlyphs" stroke="#737373" stroke-width="0.3">40.00</text>
<rect x="21" y="895" width="1838" height="1" fill="#7a7a7a"/>
<rect x="43" y="895" width="1" height="9.5" fill="#7a7a7a"/>
<text x="43.40" y="914.00" font-size="11" fill="#737373" text-anchor="middle" textLength="39.50" lengthAdjust="spacingAndGlyphs" stroke="#737373" stroke-width="0.3">Sep &#39;20</text>
<rect x="156" y="895" width="1" height="9.5" fill="#7a7a7a"/>
<text x="156.50" y="914.00" font-size="11" fill="#737373" text-anchor="middle" textLength="37.00" lengthAdjust="spacingAndGlyphs" stroke="#737373" stroke-width="0.3">Jan &#39;21</text>
<rect x="266" y="895" width="1" height="9.5" fill="#7a7a7a"/>
<text x="266.50" y="914.00" font-size="11" fill="#737373" text-anchor="middle" textLength="41.00" lengthAdjust="spacingAndGlyphs" stroke="#737373" stroke-width="0.3">May &#39;21</text>
<rect x="380" y="895" width="1" height="9.5" fill="#7a7a7a"/>
<text x="380.20" y="914.00" font-size="11" fill="#737373" text-anchor="middle" textLength="39.50" lengthAdjust="spacingAndGlyphs" stroke="#737373" stroke-width="0.3">Sep &#39;21</text>
<rect x="492" y="895" width="1" height="9.5" fill="#7a7a7a"/>
<text x="492.60" y="914.00" font-size="11" fill="#737373" text-anchor="middle" textLength="37.00" lengthAdjust="spacingAndGlyphs" stroke="#737373" stroke-width="0.3">Jan &#39;22</text>
<rect x="602" y="895" width="1" height="9.5" fill="#7a7a7a"/>
<text x="602.60" y="914.00" font-size="11" fill="#737373" text-anchor="middle" textLength="41.00" lengthAdjust="spacingAndGlyphs" stroke="#737373" stroke-width="0.3">May &#39;22</text>
<rect x="716" y="895" width="1" height="9.5" fill="#7a7a7a"/>
<text x="716.40" y="914.00" font-size="11" fill="#737373" text-anchor="middle" textLength="39.50" lengthAdjust="spacingAndGlyphs" stroke="#737373" stroke-width="0.3">Sep &#39;22</text>
<rect x="828" y="895" width="1" height="9.5" fill="#7a7a7a"/>
<text x="828.40" y="914.00" font-size="11" fill="#737373" text-anchor="middle" textLength="37.00" lengthAdjust="spacingAndGlyphs" stroke="#737373" stroke-width="0.3">Jan &#39;23</text>
<rect x="939" y="895" width="1" height="9.5" fill="#7a7a7a"/>
<text x="939.70" y="914.00" font-size="11" fill="#737373" text-anchor="middle" textLength="41.00" lengthAdjust="spacingAndGlyphs" stroke="#737373" stroke-width="0.3">May &#39;23</text>
<rect x="1052" y="895" width="1" height="9.5" fill="#7a7a7a"/>
<text x="1052.30" y="914.00" font-size="11" fill="#737373" text-anchor="middle" textLength="39.50" lengthAdjust="spacingAndGlyphs" stroke="#737373" stroke-width="0.3">Sep &#39;23</text>
<rect x="1164" y="895" width="1" height="9.5" fill="#7a7a7a"/>
<text x="1164.40" y="914.00" font-size="11" fill="#737373" text-anchor="middle" textLength="37.00" lengthAdjust="spacingAndGlyphs" stroke="#737373" stroke-width="0.3">Jan &#39;24</text>
<rect x="1276" y="895" width="1" height="9.5" fill="#7a7a7a"/>
<text x="1276.20" y="914.00" font-size="11" fill="#737373" text-anchor="middle" textLength="41.00" lengthAdjust="spacingAndGlyphs" stroke="#737373" stroke-width="0.3">May &#39;24</text>
<rect x="1389" y="895" width="1" height="9.5" fill="#7a7a7a"/>
<text x="1389.40" y="914.00" font-size="11" fill="#737373" text-anchor="middle" textLength="39.50" lengthAdjust="spacingAndGlyphs" stroke="#737373" stroke-width="0.3">Sep &#39;24</text>
<rect x="1502" y="895" width="1" height="9.5" fill="#7a7a7a"/>
<text x="1502.30" y="914.00" font-size="11" fill="#737373" text-anchor="middle" textLength="37.00" lengthAdjust="spacingAndGlyphs" stroke="#737373" stroke-width="0.3">Jan &#39;25</text>
<rect x="1612" y="895" width="1" height="9.5" fill="#7a7a7a"/>
<text x="1612.40" y="914.00" font-size="11" fill="#737373" text-anchor="middle" textLength="41.00" lengthAdjust="spacingAndGlyphs" stroke="#737373" stroke-width="0.3">May &#39;25</text>
<rect x="1726" y="895" width="1" height="9.5" fill="#7a7a7a"/>
<text x="1726.20" y="914.00" font-size="11" fill="#737373" text-anchor="middle" textLength="39.50" lengthAdjust="spacingAndGlyphs" stroke="#737373" stroke-width="0.3">Sep &#39;25</text>
<rect x="1838" y="895" width="1" height="9.5" fill="#7a7a7a"/>
<text x="1838.30" y="914.00" font-size="11" fill="#737373" text-anchor="middle" textLength="37.00" lengthAdjust="spacingAndGlyphs" stroke="#737373" stroke-width="0.3">Jan &#39;26</text>
<text x="1859.00" y="891.90" font-size="10" fill="#606060" text-anchor="end" textLength="89.00" lengthAdjust="spacingAndGlyphs" stroke="#606060" stroke-width="0.2">Your local time zone</text>
<text x="19.60" y="934.90" font-size="10" fill="#222" textLength="87.60" lengthAdjust="spacingAndGlyphs">&#169;2025 TrendSpider</text>
</svg></body></html>
